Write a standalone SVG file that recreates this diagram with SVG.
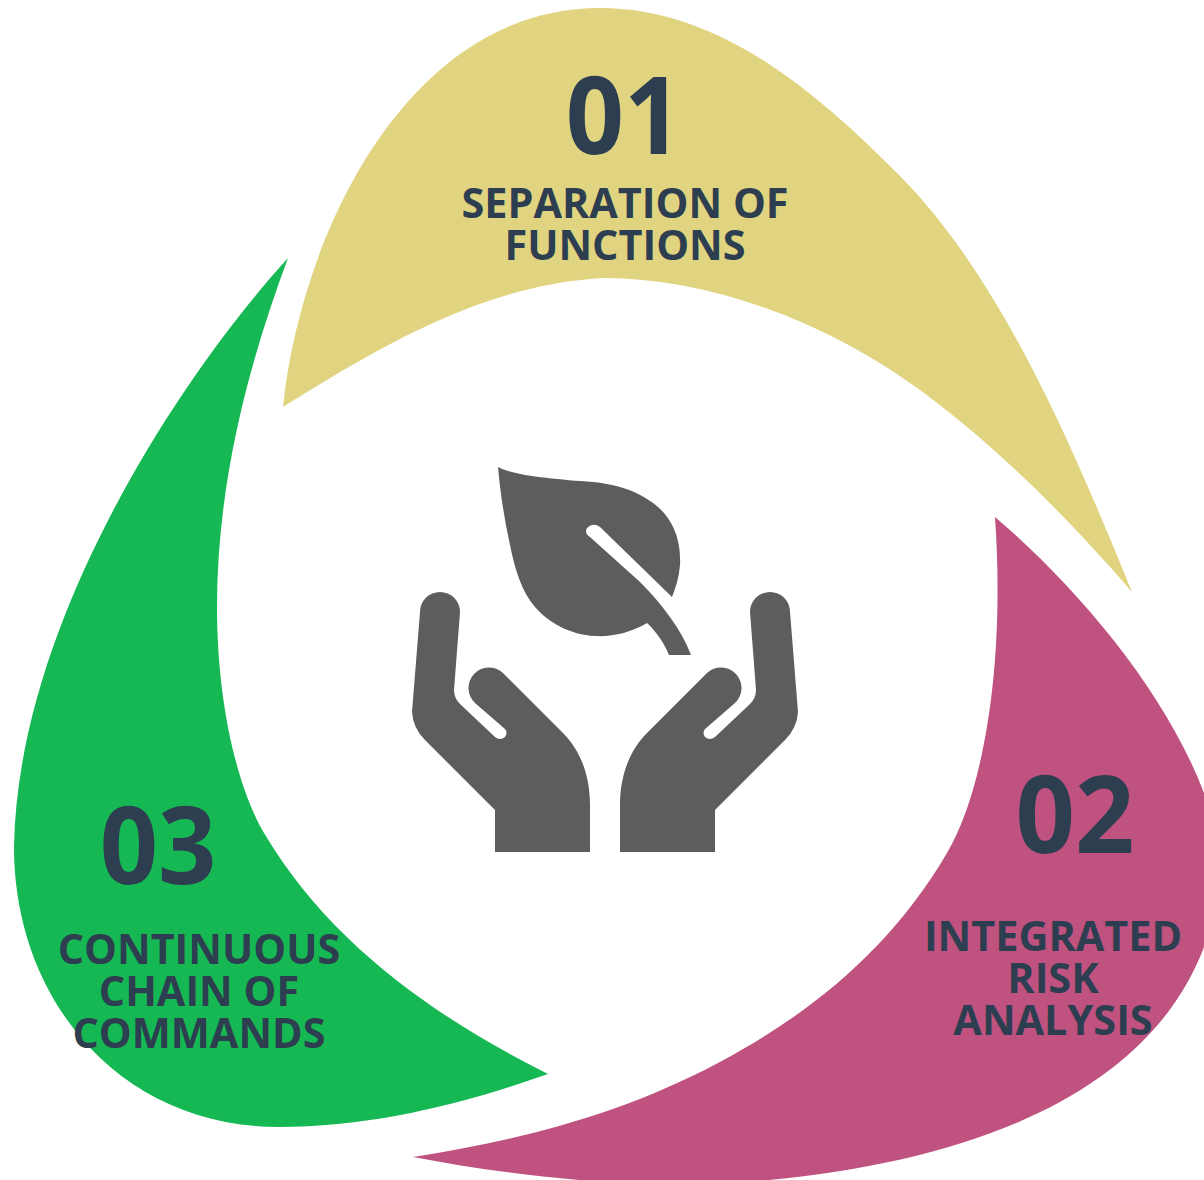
<svg xmlns="http://www.w3.org/2000/svg" xmlns:xlink="http://www.w3.org/1999/xlink" width="1204" height="1180" viewBox="0 0 1204 1180">
<style>
.num{font:700 100px "Open Sans","Noto Sans",sans-serif;fill:#2c3e50;text-anchor:middle}
.lab{font:700 41.4px "Open Sans","Noto Sans",sans-serif;fill:#2c3e50;text-anchor:middle}
.ic{fill:#5e5d5b}
</style>
<defs>
<path id="hand" class="ic" d="M420 612A20 20 0 0 1 460 612L454 690Q454 698 460 704L495 737Q500 741 505 737Q508 733 505 729L475 703A20.5 20.5 0 0 1 503 673L563 733C580 750 590 775 590 805V852H495V810L425 740Q413 728 412 712Z"/>
</defs>
<rect width="1204" height="1180" fill="#fff"/>
<g id="petal-01">
<path fill="#e0d480" d="M283 407C300 240 405 8 600 8C715 8 810 85 900 176C1000 277 1070 440 1132 592C1070 520 1000 450 928 396C830 322 710 278 603 278C480 285 375 350 283 407Z"/>
<text class="num" transform="translate(624 154) scale(1.02 1.08)">01</text>
<text class="lab" x="625" y="218">SEPARATION OF</text>
<text class="lab" x="625" y="260">FUNCTIONS</text>
</g>
<g id="petal-02">
<path fill="#bf527f" d="M995 517C1075 585 1165 690 1204 793V947C1150 1090 980 1160 769 1180L579 1180C520 1175 465 1167 413 1157C520 1140 620 1115 718 1063C810 1014 890 950 947 853C985 788 1005 660 995 517Z"/>
<text class="num" transform="translate(1075 853) scale(1.04 1.08)">02</text>
<text class="lab" x="1053" y="951">INTEGRATED</text>
<text class="lab" x="1053" y="993">RISK</text>
<text class="lab" x="1053" y="1035">ANALYSIS</text>
</g>
<g id="petal-03">
<path fill="#16b853" d="M288 258C190 365 18 615 14 847C14 1000 120 1127 279 1127C370 1127 460 1105 548 1074C440 1020 330 945 264 833C236 785 217 700 217 607C217 480 250 360 288 258Z"/>
<text class="num" transform="translate(158 884) scale(1.02 1.08)">03</text>
<text class="lab" x="199" y="964">CONTINUOUS</text>
<text class="lab" x="199" y="1006">CHAIN OF</text>
<text class="lab" x="199" y="1048">COMMANDS</text>
</g>
<g id="icon">
<path class="ic" d="M498 467C515 476 555 479 593 482C625 485 650 497 664 513C676 527 681 545 680 565C679 577 676 587 672 597L600 527Q593 522 587 528Q584 533 590 537L640 582C655 597 680 625 691 655H669C665 645 657 632 647 623C630 633 612 637 595 636C570 635 548 622 535 607C522 592 515 570 510 545C504 518 500 490 498 467Z"/>
<use xlink:href="#hand" href="#hand"/>
<use xlink:href="#hand" href="#hand" transform="translate(1210 0) scale(-1 1)"/>
</g>
<g id="connectors"></g>
</svg>
